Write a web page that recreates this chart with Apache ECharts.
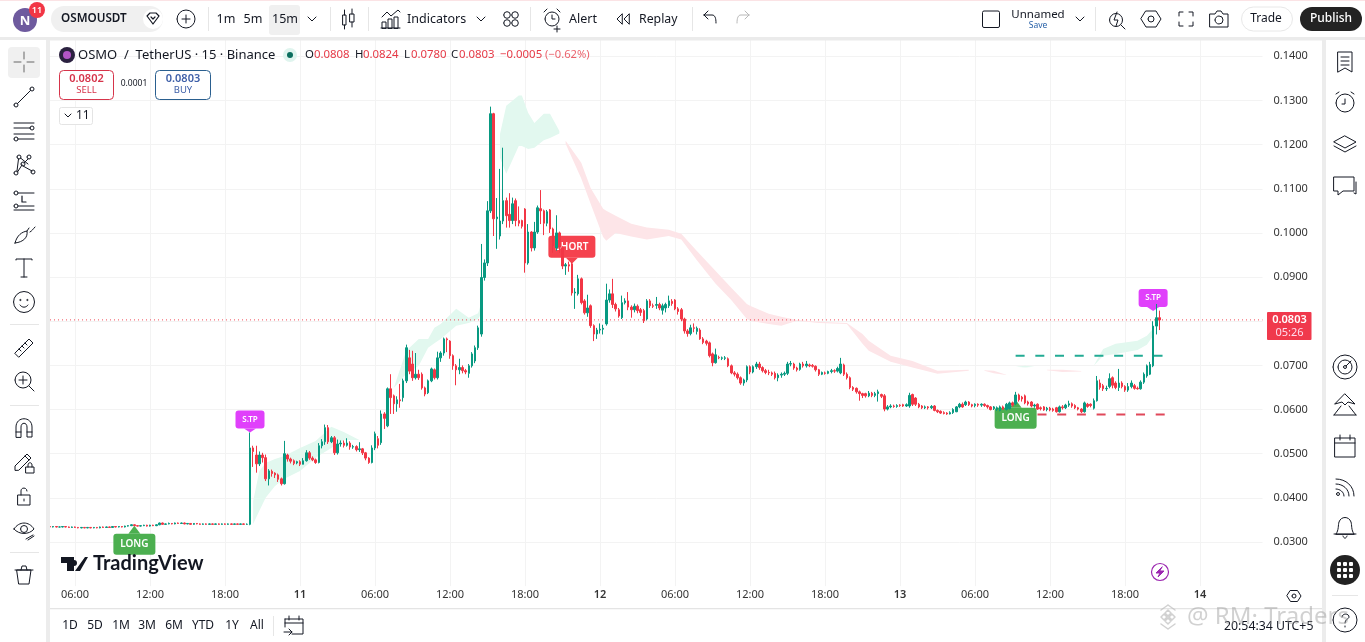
<!DOCTYPE html>
<html><head><meta charset="utf-8">
<style>html,body{margin:0;padding:0;background:#fff;overflow:hidden}#c{width:1365px;height:642px}</style>
<script src="https://cdn.jsdelivr.net/npm/echarts@6/dist/echarts.min.js"></script>
</head><body><div id="c"></div>
<script>
// Time-axis tick labels (one every 24 bars)
const tickLabels=['06:00','12:00','18:00','11','06:00','12:00','18:00','12','06:00','12:00','18:00','13','06:00','12:00','18:00','14'];
const priceTicks={min:0.02,max:0.15,step:0.01};
const lastPrice=0.0803, longTarget=0.0722, longStop=0.0589;
// Candles: [open, close, low, high]
const flatBars=[
[.0335,.0334,.0333,.0336],[.0334,.0335,.0333,.0336],[.0335,.0334,.0333,.0335],[.0334,.0334,.0333,.0335],[.0334,.0335,.0333,.0336],[.0335,.0334,.0333,.0335],[.0334,.0333,.0332,.0335],[.0333,.0334,.0332,.0335],
[.0334,.0333,.0332,.0335],[.0333,.0332,.0331,.0334],[.0332,.0333,.0331,.0334],[.0333,.0332,.0331,.0334],[.0332,.0333,.0331,.0334],[.0333,.0332,.0331,.0334],[.0332,.0333,.0331,.0334],[.0333,.0332,.0331,.0334],
[.0332,.0334,.0331,.0335],[.0334,.0333,.0332,.0335],[.0333,.0334,.0332,.0335],[.0334,.0333,.0332,.0335],[.0333,.0335,.0332,.0336],[.0335,.0334,.0333,.0336],[.0334,.0335,.0333,.0336],[.0335,.0334,.0333,.0336],
[.0334,.0336,.0333,.0337],[.0336,.0337,.0335,.0338],[.0337,.0339,.0336,.0340],[.0339,.0337,.0336,.0340],[.0337,.0336,.0335,.0338],[.0336,.0337,.0335,.0338],[.0337,.0338,.0336,.0339],[.0338,.0336,.0335,.0339],
[.0336,.0338,.0335,.0339],[.0338,.0337,.0336,.0339],[.0337,.0339,.0336,.0340],[.0339,.0343,.0338,.0344],[.0343,.0340,.0339,.0344],[.0340,.0341,.0339,.0342],[.0341,.0342,.0340,.0344],[.0342,.0341,.0340,.0343],
[.0341,.0343,.0340,.0344],[.0343,.0342,.0341,.0344],[.0342,.0343,.0341,.0344],[.0343,.0341,.0340,.0344],[.0341,.0342,.0340,.0343],[.0342,.0340,.0339,.0343],[.0340,.0342,.0339,.0343],[.0342,.0341,.0340,.0343],
[.0341,.0340,.0339,.0342],[.0340,.0341,.0339,.0342],[.0341,.0340,.0339,.0342],[.0340,.0341,.0339,.0342],[.0341,.0340,.0339,.0342],[.0340,.0341,.0339,.0342],[.0341,.0340,.0339,.0342],[.0340,.0341,.0339,.0342],
[.0341,.0340,.0339,.0342],[.0340,.0341,.0339,.0342],[.0341,.0340,.0339,.0342],[.0340,.0341,.0339,.0342],[.0341,.0340,.0339,.0342],[.0340,.0341,.0339,.0342],[.0341,.0340,.0339,.0342],[.0340,.0340,.0339,.0342]];
const breakoutBars=[
[.0340,.0513,.0338,.0548],[.0513,.0505,.0470,.0518],[.0497,.0477,.0457,.0518],[.0477,.0497,.0472,.0505],[.0497,.0491,.0480,.0502],[.0491,.0443,.0438,.0498],[.0443,.0461,.0428,.0465],[.0460,.0455,.0448,.0464],
[.0456,.0452,.0445,.0458],[.0452,.0442,.0436,.0455],[.0443,.0432,.0428,.0446],[.0432,.0500,.0430,.0529],[.0497,.0488,.0482,.0500],[.0488,.0483,.0478,.0491],[.0484,.0478,.0474,.0487],[.0479,.0482,.0476,.0484],
[.0482,.0476,.0472,.0485],[.0476,.0484,.0476,.0490],[.0484,.0502,.0482,.0508],[.0502,.0490,.0486,.0506],[.0490,.0486,.0483,.0494],[.0486,.0480,.0477,.0489],[.0480,.0518,.0478,.0524],[.0518,.0527,.0512,.0533],
[.0527,.0559,.0520,.0566],[.0559,.0527,.0522,.0565],[.0527,.0536,.0524,.0540],[.0536,.0502,.0497,.0540],[.0502,.0522,.0498,.0532],[.0522,.0524,.0516,.0530],[.0524,.0519,.0514,.0530],[.0519,.0524,.0516,.0535],
[.0524,.0515,.0509,.0528],[.0515,.0516,.0511,.0520],[.0516,.0509,.0505,.0519],[.0509,.0511,.0504,.0526],[.0511,.0502,.0497,.0513],[.0502,.0490,.0485,.0504],[.0490,.0480,.0477,.0492],[.0480,.0513,.0478,.0519]];
const rallyBars=[
[.0513,.0545,.0508,.0550],[.0534,.0519,.0512,.0540],[.0525,.0590,.0520,.0598],[.0590,.0580,.0556,.0594],[.0563,.0647,.0560,.0650],[.0647,.0627,.0590,.0680],[.0631,.0613,.0590,.0634],[.0613,.0622,.0595,.0630],
[.0622,.0620,.0604,.0658],[.0627,.0665,.0618,.0670],[.0665,.0740,.0660,.0747],[.0717,.0687,.0680,.0735],[.0703,.0672,.0665,.0733],[.0672,.0680,.0668,.0728],[.0680,.0672,.0667,.0690],[.0680,.0649,.0645,.0684],
[.0649,.0635,.0630,.0652],[.0638,.0665,.0635,.0668],[.0665,.0692,.0662,.0695],[.0690,.0672,.0668,.0693],[.0672,.0717,.0668,.0731],[.0717,.0728,.0708,.0732],[.0728,.0760,.0722,.0763],[.0760,.0758,.0730,.0763],
[.0755,.0722,.0715,.0757],[.0722,.0699,.0690,.0725],[.0699,.0690,.0655,.0703],[.0690,.0695,.0680,.0715],[.0695,.0688,.0682,.0700],[.0688,.0685,.0680,.0692],[.0682,.0699,.0672,.0703],[.0699,.0726,.0695,.0730],
[.0710,.0740,.0705,.0745],[.0740,.0785,.0735,.0790],[.0771,.0899,.0765,.0975],[.0899,.0932,.0892,.0940],[.0932,.1050,.0925,.1072],[.1050,.1270,.1045,.1286],[.1270,.1032,.0993,.1272],[.1032,.1036,.0964,.1079]];
const peakBars=[
[.0993,.1027,.0985,.1145],[.1027,.1073,.1020,.1193],[.1073,.1039,.1012,.1080],[.1042,.1028,.1012,.1090],[.1028,.1066,.1020,.1080],[.1073,.1028,.1015,.1078],[.1028,.1022,.1015,.1060],[.1028,.1015,.1010,.1030],
[.1054,.0932,.0910,.1056],[.0932,.1002,.0928,.1020],[.1002,.0966,.0958,.1004],[.0966,.1002,.0960,.1025],[.1002,.1057,.0998,.1062],[.1055,.1050,.1020,.1097],[.1050,.1022,.0995,.1053],[.1022,.1048,.1015,.1052],
[.1052,.1009,.1000,.1054],[.1009,.0971,.0955,.1012],[.0966,.1000,.0960,.1040],[.1000,.0968,.0955,.1003],[.0966,.0925,.0918,.0970],[.0925,.0928,.0905,.0932],[.0928,.0925,.0912,.0935],[.0930,.0864,.0858,.0934],
[.0864,.0866,.0828,.0875],[.0862,.0896,.0858,.0905],[.0896,.0842,.0838,.0899],[.0846,.0819,.0815,.0850],[.0819,.0830,.0810,.0860],[.0835,.0790,.0785,.0838],[.0790,.0771,.0755,.0793],[.0771,.0780,.0760,.0785]];
const rangeBars=[
[.0780,.0782,.0772,.0795],[.0782,.0784,.0770,.0792],[.0794,.0848,.0790,.0885],[.0848,.0862,.0842,.0872],[.0862,.0838,.0830,.0896],[.0838,.0828,.0822,.0842],[.0826,.0812,.0808,.0830],[.0808,.0842,.0805,.0858],
[.0842,.0846,.0838,.0852],[.0846,.0832,.0825,.0866],[.0832,.0826,.0808,.0836],[.0826,.0834,.0820,.0840],[.0834,.0824,.0818,.0838],[.0826,.0820,.0812,.0830],[.0824,.0801,.0796,.0828],[.0805,.0846,.0802,.0850],
[.0846,.0835,.0830,.0850],[.0835,.0834,.0830,.0840],[.0836,.0838,.0828,.0855],[.0838,.0830,.0825,.0842],[.0825,.0835,.0815,.0840],[.0830,.0838,.0820,.0842],[.0835,.0846,.0830,.0858],[.0845,.0840,.0835,.0850],
[.0848,.0828,.0825,.0850],[.0828,.0822,.0815,.0832],[.0826,.0805,.0800,.0830],[.0805,.0778,.0772,.0808],[.0778,.0772,.0765,.0782],[.0772,.0785,.0768,.0792],[.0785,.0784,.0775,.0795],[.0777,.0784,.0770,.0788]];
const slideBars=[
[.0780,.0760,.0758,.0784],[.0760,.0752,.0748,.0764],[.0755,.0750,.0745,.0758],[.0751,.0722,.0718,.0754],[.0726,.0706,.0698,.0729],[.0706,.0724,.0704,.0738],[.0718,.0717,.0714,.0722],[.0716,.0717,.0712,.0720],
[.0716,.0717,.0712,.0721],[.0715,.0699,.0696,.0718],[.0699,.0683,.0680,.0702],[.0683,.0680,.0675,.0687],[.0680,.0672,.0668,.0684],[.0672,.0660,.0656,.0675],[.0660,.0667,.0654,.0670],[.0667,.0697,.0662,.0700],
[.0697,.0685,.0680,.0700],[.0685,.0697,.0682,.0700],[.0697,.0703,.0692,.0708],[.0703,.0695,.0690,.0708],[.0695,.0688,.0684,.0698],[.0688,.0684,.0680,.0692],[.0684,.0683,.0678,.0690],[.0683,.0680,.0676,.0686],
[.0682,.0672,.0668,.0686],[.0672,.0678,.0664,.0682],[.0678,.0680,.0672,.0684],[.0680,.0682,.0676,.0686],[.0682,.0703,.0678,.0708],[.0703,.0704,.0698,.0710],[.0703,.0694,.0690,.0706],[.0694,.0690,.0686,.0697]];
const shelfBars=[
[.0691,.0703,.0688,.0706],[.0703,.0699,.0695,.0708],[.0699,.0703,.0695,.0710],[.0701,.0699,.0696,.0704],[.0700,.0698,.0695,.0703],[.0698,.0690,.0686,.0700],[.0690,.0680,.0676,.0692],[.0680,.0684,.0678,.0686],
[.0683,.0682,.0679,.0686],[.0682,.0686,.0680,.0688],[.0686,.0688,.0682,.0692],[.0688,.0687,.0683,.0691],[.0687,.0693,.0684,.0697],[.0683,.0703,.0680,.0717],[.0701,.0680,.0676,.0704],[.0680,.0672,.0668,.0684],
[.0672,.0650,.0646,.0675],[.0650,.0646,.0642,.0653],[.0648,.0640,.0636,.0650],[.0640,.0636,.0620,.0643],[.0636,.0632,.0626,.0638],[.0636,.0631,.0627,.0638],[.0631,.0637,.0628,.0642],[.0637,.0632,.0628,.0640],
[.0632,.0636,.0628,.0640],[.0636,.0640,.0618,.0645],[.0634,.0630,.0626,.0636],[.0631,.0601,.0596,.0635],[.0601,.0606,.0598,.0610],[.0606,.0608,.0603,.0612],[.0608,.0607,.0604,.0611],[.0607,.0609,.0604,.0612]];
const baseBars=[
[.0610,.0609,.0606,.0612],[.0611,.0608,.0606,.0613],[.0608,.0611,.0606,.0614],[.0608,.0632,.0604,.0638],[.0634,.0612,.0608,.0636],[.0626,.0612,.0608,.0628],
[.0612,.0606,.0603,.0615],[.0608,.0604,.0601,.0610],[.0604,.0606,.0601,.0609],[.0606,.0604,.0600,.0608],[.0604,.0607,.0601,.0610],[.0608,.0598,.0596,.0610],[.0598,.0595,.0592,.0600],[.0596,.0592,.0590,.0598],
[.0593,.0591,.0589,.0596],[.0592,.0590,.0588,.0594],[.0590,.0593,.0589,.0596],[.0593,.0600,.0590,.0603],[.0595,.0606,.0594,.0608],[.0606,.0612,.0603,.0615],[.0612,.0606,.0604,.0616],[.0611,.0617,.0608,.0620],
[.0617,.0611,.0608,.0619],[.0611,.0608,.0605,.0613],[.0609,.0612,.0605,.0614],[.0612,.0610,.0606,.0614],[.0610,.0612,.0606,.0614],[.0612,.0609,.0606,.0614],[.0609,.0606,.0602,.0611],[.0606,.0600,.0598,.0608]];
const liftBars=[
[.0602,.0606,.0599,.0608],[.0600,.0604,.0597,.0607],[.0598,.0606,.0596,.0609],[.0606,.0601,.0599,.0609],[.0600,.0612,.0598,.0615],[.0602,.0615,.0600,.0618],
[.0615,.0610,.0606,.0618],[.0613,.0633,.0610,.0640],[.0633,.0622,.0618,.0636],[.0628,.0624,.0618,.0631],[.0631,.0615,.0612,.0634],[.0617,.0613,.0609,.0620],[.0617,.0608,.0605,.0619],[.0608,.0610,.0604,.0613],
[.0612,.0601,.0599,.0614],[.0604,.0602,.0598,.0607],[.0606,.0599,.0597,.0608],[.0600,.0603,.0596,.0606],[.0603,.0599,.0596,.0606],[.0601,.0598,.0595,.0604],[.0604,.0595,.0593,.0606],[.0595,.0606,.0593,.0609],
[.0606,.0604,.0600,.0610],[.0604,.0610,.0601,.0613],[.0610,.0613,.0606,.0620],[.0613,.0608,.0604,.0616],[.0609,.0604,.0601,.0612],[.0604,.0601,.0598,.0606],[.0601,.0595,.0592,.0603],[.0595,.0615,.0593,.0618]];
const finalBars=[
[.0612,.0607,.0604,.0615],[.0612,.0609,.0605,.0614],[.0603,.0620,.0600,.0625],[.0620,.0665,.0618,.0676],[.0660,.0650,.0645,.0668],[.0654,.0647,.0642,.0658],[.0647,.0648,.0642,.0654],[.0652,.0670,.0648,.0682],
[.0672,.0655,.0648,.0675],[.0660,.0650,.0646,.0664],[.0650,.0660,.0642,.0692],[.0660,.0652,.0648,.0664],[.0652,.0644,.0640,.0655],[.0644,.0652,.0640,.0660],[.0652,.0660,.0648,.0666],[.0654,.0648,.0645,.0658],
[.0648,.0647,.0645,.0652],[.0647,.0662,.0645,.0666],[.0662,.0680,.0658,.0684],[.0676,.0699,.0672,.0702],[.0680,.0702,.0678,.0708],[.0699,.0789,.0696,.0800],[.0789,.0808,.0770,.0839],[.0808,.0803,.0780,.0824]];
const candles=[].concat(flatBars,breakoutBars,rallyBars,peakBars,rangeBars,slideBars,shelfBars,baseBars,liftBars,finalBars);

// Ribbon bands: [bar, lower price, upper price]
const greenBandA=[[65,.0341,.0393],[67,.0371,.0461],[69,.0400,.0479],[72,.0427,.0488],[75,.0443,.0495],[80,.0461,.0513],[85,.0491,.0529],[90,.0513,.0561],[94,.0531,.0549],[99,.0531,.0531]];
const greenBandB=[[110,.0649,.0649],[114,.0681,.0733],[118,.0699,.0760],[121,.0740,.0760],[123,.0750,.0785],[125,.0760,.0794],[130,.0790,.0828],[134,.0796,.0808],[137,.0805,.0818],[138,.0817,.0842]];
const greenBandC=[[144,.1170,.1224],[146,.1134,.1288],[150,.1197,.1311],[151,.1197,.1311],[153,.1190,.1272],[155,.1193,.1249],[158,.1210,.1270],[160,.1215,.1270],[163,.1225,.1231]];
const redBandA=[[165,.1202,.1209],[170,.1123,.1159],[173,.1066,.1102],[177,.0991,.1055],[178,.0982,.1050],[181,.1000,.1039],[186,.0992,.1021],[191,.0985,.1012],[198,.0993,.1007],[202,.0985,.0998],[207,.0938,.0959],[213,.0885,.0914],[218,.0848,.0876],[223,.0805,.0839],[224,.0801,.0835],[230,.0794,.0817],[234,.0790,.0810],[239,.0801,.0803],[246,.0796,.0799],[255,.0794,.0796],[260,.0749,.0771],[262,.0733,.0756],[269,.0708,.0722],[276,.0695,.0710],[284,.0681,.0688],[294,.0688,.0690]];
const redBandB=[[299,.0688,.0689],[302,.0682,.0688],[306,.0678,.0679]];
const greenBandD=[[309,.0697,.0697],[312,.0695,.0699],[315,.0697,.0697]];
const redBandC=[[319,.0689,.0690],[324,.0685,.0690],[330,.0686,.0687]];
const greenBandE=[[334,.0699,.0699],[337,.0722,.0737],[341,.0726,.0749],[348,.0735,.0756],[351,.0747,.0767],[353,.0767,.0783]];
const greenBands=[greenBandA,greenBandB,greenBandC,greenBandD,greenBandE];
const redBands=[redBandA,redBandB,redBandC];

// Signal tags
const tagBars=[27,64,167,309,353];
const tagPrices=[.0337,.0548,.0930,.0622,.0823];
const tagTexts=['LONG','S.TP','SHORT','LONG','S.TP'];

const FONT='"Noto Sans"';
const categories=Array.from({length:389},(_,i)=>(i-8)%24===0&&i>=8?tickLabels[(i-8)/24]:'');

function bandSeries(bands,color){
  return {type:'custom',z:1,silent:true,clip:true,encode:{x:0,y:1},
    data:bands.map((b,k)=>[b[0][0],b[0][1],k]),
    renderItem(params,api){
      const b=bands[params.dataIndex];
      const up=b.map(p=>api.coord([p[0],p[2]]));
      const low=b.map(p=>api.coord([p[0],p[1]])).reverse();
      return {type:'polygon',shape:{points:up.concat(low)},style:{fill:color}};
    }};
}
function tagStyle(t){
  if(t==='LONG')return {w:42,h:21,tip:8,fill:'#4CAF50',up:true,size:10};
  if(t==='SHORT')return {w:47,h:22,tip:6,fill:'#F5424E',up:false,size:10};
  return {w:29,h:18,tip:4,fill:'#E040FB',up:false,size:8};
}
const tagSeries={type:'custom',z:2,silent:true,clip:false,encode:{x:0,y:1},
  data:tagBars.map((b,i)=>[b,tagPrices[i]]),
  renderItem(params,api){
    const t=tagTexts[params.dataIndex],s=tagStyle(t),p=api.coord([api.value(0),api.value(1)]);
    const by=s.up?p[1]+s.tip:p[1]-s.tip-s.h;
    const base=s.up?by:by+s.h;
    return {type:'group',children:[
      {type:'polygon',shape:{points:[[p[0],p[1]],[p[0]-6,base],[p[0]+6,base]]},style:{fill:s.fill}},
      {type:'rect',shape:{x:p[0]-s.w/2,y:by,width:s.w,height:s.h,r:3},style:{fill:s.fill}},
      {type:'text',style:{x:p[0],y:by+s.h/2,text:t,fill:'#fff',font:'600 '+s.size+'px '+FONT,align:'center',verticalAlign:'middle'}}
    ]};
  }};

// ---- chrome ----
const el=[];
const INK='#131722';
function R(x,y,w,h,o={}){el.push({type:'rect',z:o.z||200,silent:true,shape:{x,y,width:w,height:h,r:o.r||0},style:{fill:o.fill||'none',stroke:o.stroke||null,lineWidth:o.lw||1}});}
function T(x,y,t,o={}){el.push({type:'text',z:o.z||201,silent:true,style:{x,y,text:t,fill:o.c||INK,font:(o.w||400)+' '+(o.s||12)+'px '+(o.f||FONT),align:o.a||'left',verticalAlign:'middle',opacity:o.op==null?1:o.op}});}
let pathId=0;
function P(x,y,d,o={}){
  const name='icon'+(pathId++);
  echarts.graphic.registerShape(name,echarts.graphic.extendPath(d,{}));
  el.push({type:name,z:o.z||201,silent:true,x,y,shape:{},style:{fill:o.fill||'none',stroke:o.stroke===undefined?(o.c||INK):o.stroke,lineWidth:o.lw||1,lineCap:'round',lineJoin:'round',opacity:o.op==null?1:o.op}});
}
const cir=(x,y,r)=>`M${x-r} ${y}a${r} ${r} 0 1 0 ${2*r} 0a${r} ${r} 0 1 0 ${-2*r} 0`;
function sep(x,y0,y1){R(x,y0,1,y1-y0,{fill:'#e6e6e6'});}
function hsep(y){R(10,y,29,1,{fill:'#e6e6e6'});}
const chev='M-4 -2L0 2L4 -2';

// panel backgrounds
R(0,0,1365,37,{fill:'#fff',z:199});
R(0,0,1365,1,{fill:'#fbe3e5',z:199});
R(0,37,1365,3.5,{fill:'#ebebeb',z:199});
R(0,40,46,602,{fill:'#fff',z:199});
R(46,40,4,602,{fill:'#ececec',z:199});
R(1322,40,4,602,{fill:'#ececec',z:199});
R(1326,40,39,602,{fill:'#fff',z:199});
R(50,608,1272,1.2,{fill:'#e4e4e4',z:199});

// top bar
el.push({type:'circle',z:200,silent:true,shape:{cx:25,cy:20,r:12},style:{fill:'#6E5A9E'}});
T(25,21,'N',{a:'center',c:'#fff',w:700,s:13});
el.push({type:'circle',z:201,silent:true,shape:{cx:37,cy:10,r:8},style:{fill:'#F23645'}});
T(37,10,'11',{a:'center',c:'#fff',s:9,w:600,z:202});
R(51,6,112,26,{fill:'#f0f0f0',r:13});
T(61,19,'OSMOUSDT',{w:600,s:11.7});
el.push({type:'circle',z:200,silent:true,shape:{cx:153,cy:19,r:10},style:{fill:'#fff'}});
P(153,19,'M-6 -3L-3 -6H3L6 -3L0 5Z M-2 -2L0 0L2 -2',{lw:1.2});
P(186,19,cir(0,0,9)+'M-4 0H4M0 -4V4');
sep(208,7,31);
T(226,19,'1m',{a:'center',s:12.5});T(253,19,'5m',{a:'center',s:12.5});
R(269,5,31,30,{fill:'#f0f0f0',r:3});
T(285,19,'15m',{a:'center',s:12.5});
P(312,19,chev);
sep(330,7,31);
P(348,19,'M-5 -4H-2V6H-5ZM-3.5 -9V-4M-3.5 6V10M2 -5H6V3H2ZM4 -10V-5M4 3V8');
sep(368,7,31);
P(391,19,'M-9 -2L-4 -7L0 -3L7 -9L9 -7M-9 9V3H-5V9ZM-3 9V0H1V9ZM3 9V-2H7V9ZM-10 9H9');
T(407,19,'Indicators',{s:12.5});
P(481,19,chev);
P(511,19,cir(-4,-4,3.3)+cir(4,-4,3.3)+cir(-4,4,3.3)+cir(4,4,3.3));
sep(530,7,31);
P(552,19,cir(0,0,7)+'M0 -4V0H3M-8 -7L-5 -10M8 -7L5 -10M5 7V13M2 10H8');
T(569,19,'Alert',{s:12.5});
P(623,19,'M-1 -5L-6 0L-1 5ZM6 -5L1 0L6 5Z');
T(639,19,'Replay',{s:12.3});
sep(692,7,31);
P(710,19,'M-6 -4L-2 -8M-6 -4L-2 0M-6 -4H2C5 -4 6 -1 6 4');
P(743,19,'M6 -4L2 -8M6 -4L2 0M6 -4H-2C-5 -4 -6 -1 -6 4',{c:'#b8b8b8'});
R(982.5,11,17,16.5,{stroke:INK,r:1.5});
T(1038,15,'Unnamed',{a:'center',s:11.5});
T(1038,26,'Save',{a:'center',s:8.5,c:'#2962a8'});
P(1080,19,chev);
sep(1095,7,31);
P(1117,19,cir(-1,1,6.5)+'M4 6L8 10M0 -7L-3 1H1L-1 7',{lw:1});
P(1151,19,'M-5 -8H5L10 0L5 8H-5L-10 0Z'+cir(0,0,3));
P(1186,19,'M-7 -3V-7H-3M3 -7H7V-3M7 3V7H3M-3 7H-7V3');
P(1219,19,'M-9 -5H-4L-2 -8H2L4 -5H9V8H-9Z'+cir(0,1,4));
R(1241.5,7,51,24,{stroke:'#e8e8e8',r:12,fill:'#fff'});
T(1266,19,'Trade',{a:'center',s:12});
R(1300,7,62,24,{fill:'#232323',r:12});
T(1331,18.5,'Publish',{a:'center',s:12,c:'#fff',w:500});

// legend
el.push({type:'circle',z:200,silent:true,shape:{cx:67,cy:55,r:8},style:{fill:'#2b2140'}});
el.push({type:'circle',z:200,silent:true,shape:{cx:67,cy:55,r:4},style:{fill:'#b455c8'}});
T(78,55,'OSMO  /  TetherUS · 15 · Binance',{s:13});
el.push({type:'circle',z:200,silent:true,shape:{cx:290,cy:55,r:7},style:{fill:'#dff4ee'}});
el.push({type:'circle',z:201,silent:true,shape:{cx:290,cy:55,r:3},style:{fill:'#0b6e5e'}});
const RED='#E63946';
T(305,55,'O',{s:11.4});T(314,55,'0.0808',{s:11.4,c:RED});
T(355,55,'H',{s:11.4});T(363,55,'0.0824',{s:11.4,c:RED});
T(404,55,'L',{s:11.4});T(411,55,'0.0780',{s:11.4,c:RED});
T(451,55,'C',{s:11.4});T(459,55,'0.0803',{s:11.4,c:RED});
T(500,55,'−0.0005',{s:11.4,c:RED});T(545,55,'(−0.62%)',{s:11.2,c:RED,op:.8});
R(59.5,70.5,54,29,{stroke:'#D6344A',r:4,fill:'#fff'});
T(86.5,78.5,'0.0802',{a:'center',s:11,c:'#D6344A',w:600});
T(86.5,90,'SELL',{a:'center',s:9.5,c:'#D6344A'});
T(134,84,'0.0001',{a:'center',s:8.5});
R(155.5,70.5,55,29,{stroke:'#2A5F8F',r:4,fill:'#fff'});
T(183,78.5,'0.0803',{a:'center',s:11,c:'#3D5FA8',w:600});
T(183,90,'BUY',{a:'center',s:9.5,c:'#3D5FA8'});
R(59.5,107.5,33,17,{stroke:'#e4e4e4',r:2,fill:'#fff'});
P(68,115.5,'M-3 -1.5L0 1.5L3 -1.5');
T(76,115.5,'11',{s:12});

// left tool icons
R(8,47,32,31,{fill:'#f0f0f0',r:4});
P(24,62,'M0 -10V-3M0 3V10M-10 0H-3M3 0H10',{c:'#666'});
P(24,97,cir(-8,8,2)+cir(8,-8,2)+'M-6.5 6.5L6.5 -6.5');
P(24,131,'M-10 -8H10M-10 -3H6M-6 8H10M-10 3H10'+cir(8,-3,2)+cir(-8,8,2));
P(24,165,cir(-8,8,2)+cir(-5,-8,2)+cir(5,-8,2)+cir(9,7,2)+cir(-1,-1,2)+'M-7 6L-5.5 -6M-3.5 -7L4 -1M-1 1L8 6M-6.5 7L-2 0M4 -6L0 -2');
P(24,199,cir(-8,-6,2)+cir(-8,7,2)+'M-6 -6H10M-6 7H10M-10 11H10');
P(24,199,'M-2 -3V3H2',{lw:1.2});
P(24,235,'M-9 8C-7 0 -2 -3 3 -4C4 2 0 7 -9 8ZM3 -4L5 -7M6 -3C8 -4 9 -6 11 -8',{});
P(24,268,'M-8 -8V-9H8V-8M0 -9V9M-3 9H3');
P(24,302,cir(0,0,10.5)+cir(-3.5,-2,0.6)+cir(3.5,-2,0.6)+'M-4 3C-2 6 2 6 4 3');
hsep(324);
P(24,348,'M-9 5L5 -9L9 -5L-5 9ZM-5 1L-3 3M-2 -2L0 0M1 -5L3 -3');
P(24,381,cir(-1,-1,8)+'M5 5L10 10M-5 -1H3M-1 -5V3');
hsep(405);
P(24,428,'M-8 9V-1C-8 -12 8 -12 8 -1V9H3V-1C3 -6 -3 -6 -3 -1V9ZM-8 4H-3M3 4H8');
P(24,462,'M-9 8L-9 4L3 -8L7 -4L-5 8ZM1 -6L5 -2M2 5H10V11H2ZM4 5V3C4 0 8 0 8 3V5');
P(24,496,'M-6 -1H6V9H-6ZM-3 -1V-5C-3 -9 3 -9 3 -5M0 3V5');
P(24,530,'M-10 -1C-5 -9 5 -9 10 -1C5 5 -5 5 -10 -1Z'+cir(0,-1,3.5)+'M2 9L9 5M4 10L10 6');
hsep(552);
P(24,575,'M-7 -5H7L5 9H-5ZM-9 -5H9M-3 -5L-2 -9H2L3 -5');

// right sidebar icons
P(1345,62,'M-7 -10H7V10L0 6L-7 10ZM-4 -5H4M-4 -1H4M-4 3H4');
P(1345,102,cir(0,1,9)+'M0 -3V2H-3M-9 -8L-6 -10M9 -8L6 -10');
P(1345,144,'M0 -8L11 -2L0 4L-11 -2ZM-11 2L0 8L11 2');
P(1345,186,'M-11 -9H9V5H-2L-7 9V5H-11ZM11 -4V8L9 7');
P(1345,367,cir(0,0,12)+cir(0,0,7)+cir(0,0,1.5)+'M1 -1L6 -6');
P(1345,405,'M0 -11L10 -1L3 -3L0 0L-3 -3L-10 -1ZM-11 10L-4 1M11 10L4 1M-11 10H11');
P(1345,446,'M-10 -8H10V11H-10ZM-10 -3H10M-5 -11V-6M5 -11V-6',{});
P(1345,487,'M-9 -8C1 -8 9 -1 9 9M-9 -3C-2 -3 4 2 4 9M-9 2C-5 2 -1 5 -1 9'+cir(-7,7,1.5));
P(1345,527,'M-9 7C-6 3 -7 -2 -6 -5C-4 -11 4 -11 6 -5C7 -2 6 3 9 7ZM-11 7H11M-2 9C-1 12 1 12 2 9');
el.push({type:'circle',z:200,silent:true,shape:{cx:1345,cy:570,r:15},style:{fill:'#222'}});
[-6,0,6].forEach(dy=>[-6,0,6].forEach(dx=>R(1345+dx-2,570+dy-2,4,4,{fill:'#fff',z:202,r:1})));
R(1332,595,26,1,{fill:'#e6e6e6'});
P(1345,620,cir(0,0,12)+'M-3 -3C-3 -7 4 -7 4 -3C4 -1 0 -1 0 3M0 6V7');

// price-tag, time settings, bolt, logo
R(1267,312,44.5,28,{fill:'#F0394C',r:1,z:100});
T(1289.5,319.5,'0.0803',{a:'center',s:11,c:'#fff',w:600,z:101});
T(1289.5,332.5,'05:26',{a:'center',s:11,c:'#fde',z:101});
P(1294,596,'M-3.5 -5.5H3.5L7 0L3.5 5.5H-3.5L-7 0Z'+cir(0,0,2),{z:201});
P(1160,572,cir(0,0,8.5),{c:'#9C27B0',z:100,lw:1.2});
P(1160,572,'M2 -5L-4 1H0L-2 5L4 -1H0Z',{fill:'#9C27B0',stroke:'#9C27B0',z:100});
P(0,0,'M61 557H74V571H67V563H61Z M77 563A3 3 0 1 1 77 562.9Z M85 557H88L80 571H75Z',{fill:'#131722',stroke:null,z:100});
T(93,564,'TradingView',{s:20,w:700,f:'Lato',z:100});

// bottom bar
[['1D',70],['5D',95],['1M',121],['3M',147],['6M',174],['YTD',203],['1Y',232],['All',257]].forEach(r=>T(r[1],626,r[0],{a:'center',s:12}));
sep(273,616,636);
P(294,626,'M-9 -7H9V8H-2M-9 -7V1M-9 -3H9M-5 -10V-6M5 -10V-6M-10 6H-2M-5 3L-2 6L-5 9');
T(1224,626,'20:54:34 UTC+5',{s:12.3});
P(1168,617,'M0 -7L3 -4L0 -1L-3 -4ZM-7 0L-4 -3L-1 0L-4 3ZM7 0L4 -3L1 0L4 3ZM0 1L3 4L0 7L-3 4ZM0 -12L7 -7M0 12L7 7M0 -12L-7 -7M0 12L-7 7',{c:'#bdbdbd',op:.7,lw:1.5});
T(1187,617,'@ RM· Traders',{s:24,c:'#9a9a9a',op:.45});

const chart=echarts.init(document.getElementById('c'),null,{renderer:'canvas',width:1365,height:642});
chart.setOption({
  animation:false,backgroundColor:'#fff',
  textStyle:{fontFamily:FONT},
  grid:{left:50,width:1212.5,top:12.15,height:574,containLabel:false},
  xAxis:{type:'category',data:categories,boundaryGap:false,
    axisLine:{show:false},axisTick:{show:false},
    axisLabel:{interval:(i)=>(i-8)%24===0&&i>=8,margin:3,color:'#333',fontSize:11,fontFamily:FONT,hideOverlap:false,
      formatter:v=>v.length===2?'{d|'+v+'}':v,rich:{d:{fontWeight:600,fontSize:11,color:'#333',fontFamily:FONT}}},
    splitLine:{show:true,interval:(i)=>(i-8)%24===0&&i>=8,lineStyle:{color:'#f3f3f3',width:1}}},
  yAxis:{type:'value',position:'right',min:priceTicks.min,max:priceTicks.max,interval:priceTicks.step,
    axisLine:{show:false},axisTick:{show:false},
    axisLabel:{margin:11,color:'#333',fontSize:11,fontFamily:FONT,showMinLabel:false,showMaxLabel:false,formatter:v=>v.toFixed(4)},
    splitLine:{show:true,showMinLine:false,showMaxLine:false,lineStyle:{color:'#f3f3f3',width:1}}},
  series:[
    bandSeries(greenBands,'#E2F8EF'),
    bandSeries(redBands,'#FDE5E8'),
    tagSeries,
    {type:'line',z:2,silent:true,symbol:'none',data:[[0,lastPrice],[388,lastPrice]],lineStyle:{color:'#F23645',type:[1,3],width:1,opacity:.9}},
    {type:'candlestick',z:3,silent:true,barWidth:2,data:candles,
      itemStyle:{color:'#089981',color0:'#F23645',borderColor:'#089981',borderColor0:'#F23645',borderWidth:1}},
    {type:'line',z:2,silent:true,symbol:'none',data:[[309,longTarget],[358,longTarget]],lineStyle:{color:'#22AB94',width:2,type:[9,10.7]}},
    {type:'line',z:2,silent:true,symbol:'none',data:[[316,longStop],[358,longStop]],lineStyle:{color:'#E0485A',width:2,type:[9,10.7]}}
  ],
  graphic:{elements:el}
});
</script></body></html>
